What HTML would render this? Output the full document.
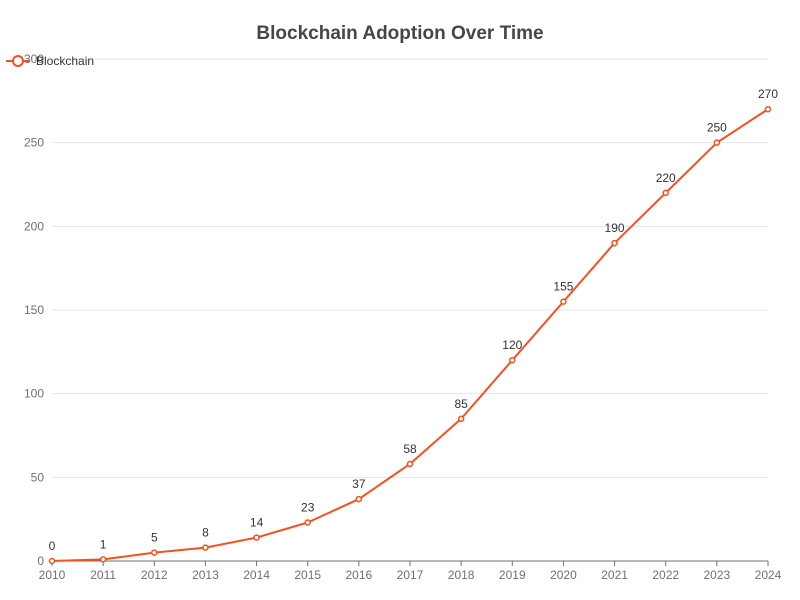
<!DOCTYPE html>
<html><head><meta charset="utf-8">
<style>
html,body{margin:0;padding:0;background:#fff;}
svg{display:block;font-family:"Liberation Sans",sans-serif;}
</style></head>
<body>
<svg id="chart" width="800" height="600">
<text x="400" y="39" text-anchor="middle" font-size="19" font-weight="bold" fill="#464646">Blockchain Adoption Over Time</text>
<g id="grid"></g><g id="axes"></g><g id="series"></g>
<g>
<line x1="6" y1="61" x2="30" y2="61" stroke="#f4511e" stroke-width="2"/>
<circle cx="18" cy="61" r="5" fill="#fff" stroke="#f4511e" stroke-width="2"/>
<text x="36" y="65" font-size="12" fill="#333">Blockchain</text>
</g>
</svg>
<script>
const years = ["2010","2011","2012","2013","2014","2015","2016","2017","2018","2019","2020","2021","2022","2023","2024"];
const values = [0,1,5,8,14,23,37,58,85,120,155,190,220,250,270];
const yTicks = [0,50,100,150,200,250,300];
const NS="http://www.w3.org/2000/svg";
const x0=52,x1=768,y0=561,y1=59,yMax=300;
const xs=i=>x0+(x1-x0)*i/(years.length-1);
const ys=v=>y0-(y0-y1)*v/yMax;
function mk(tag,attrs,parent,text){const e=document.createElementNS(NS,tag);for(const k in attrs)e.setAttribute(k,attrs[k]);if(text!==undefined)e.textContent=text;document.getElementById(parent).appendChild(e);return e;}
yTicks.forEach(t=>{
  const l=mk("line",{x1:x0,x2:x1,y1:ys(t),y2:ys(t),stroke:t===0?"#6e7079":"#e0e6f1","stroke-width":1},"grid");
  
  
  const tx=mk("text",{x:44,y:ys(t)+4,"text-anchor":"end","font-size":12,fill:"#6e7079"},"axes",t);
  
  
});
years.forEach((y,i)=>{
  const tk=mk("line",{x1:xs(i),x2:xs(i),y1:y0,y2:y0+5,stroke:"#6e7079"},"axes");
  
  
  const tx=mk("text",{x:xs(i),y:579,"text-anchor":"middle","font-size":12,fill:"#6e7079"},"axes",y);
  
  
});
const pts=values.map((v,i)=>xs(i)+","+ys(v)).join(" ");
const pl=mk("polyline",{points:pts,fill:"none",stroke:"#f4511e","stroke-width":2,"stroke-linejoin":"round"},"series");


values.forEach((v,i)=>{
  const c=mk("circle",{cx:xs(i),cy:ys(v),r:2.5,fill:"#fff",stroke:"#f4511e","stroke-width":1.5},"series");
  
  
  const t=mk("text",{x:xs(i),y:ys(v)-11,"text-anchor":"middle","font-size":12,fill:"#333"},"series",v);
  
  
});
</script>
</body></html>
